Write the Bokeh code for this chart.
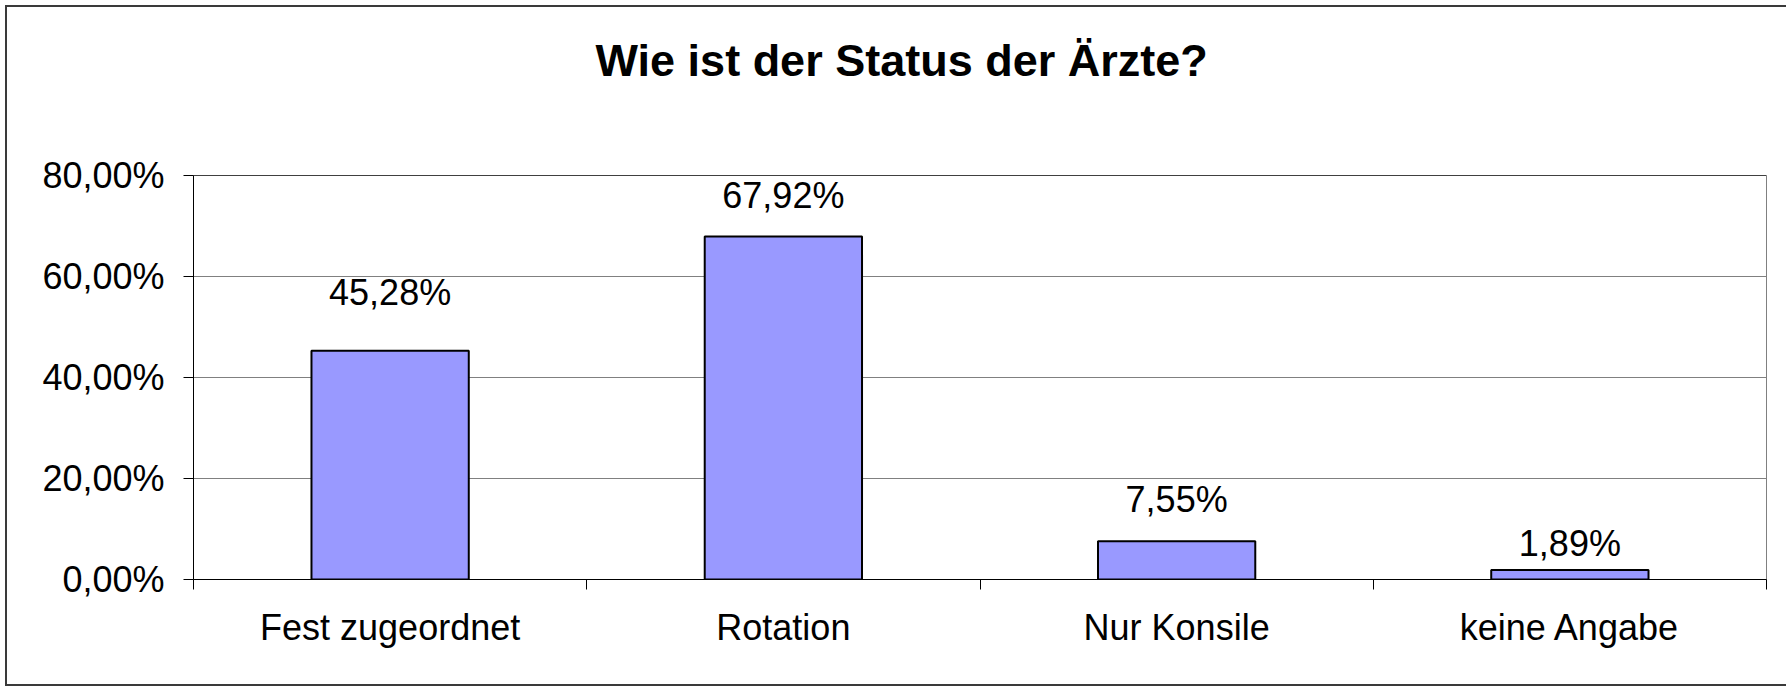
from bokeh.plotting import figure
from bokeh.models import (ColumnDataSource, Range1d, LinearAxis,
                          FixedTicker, Title, Span)
from bokeh.core.properties import value
from bokeh.embed import file_html
from bokeh.resources import INLINE

# ---------------- data ----------------
title_text = "Wie ist der Status der Ärzte?"
categories = ["Fest zugeordnet", "Rotation", "Nur Konsile", "keine Angabe"]
percentages = [45.28, 67.92, 7.55, 1.89]
y_ticks = [0, 20, 40, 60, 80]
y_tick_labels = ["0,00%", "20,00%", "40,00%", "60,00%", "80,00%"]

# ---------------- styling ----------------
FONT = "Liberation Sans"
BAR_FILL = "#9999FF"
GRID = "#808080"
FRAME_W, FRAME_H = 1573, 404
label_offset_px = [58, 41, 42, 26]   # screen offset of value labels above bar tops

n = len(categories)
centers = [i + 0.5 for i in range(n)]          # category slot centres
bounds = list(range(n + 1))                    # category slot boundaries
value_labels = [f"{v:.2f}".replace(".", ",") + "%" for v in percentages]

src = ColumnDataSource(dict(
    x=centers,
    val=percentages,
    label=value_labels,
    yoff=[-g for g in label_offset_px],
))

p = figure(
    x_range=Range1d(0, n),
    y_range=Range1d(y_ticks[0], y_ticks[-1]),
    frame_width=FRAME_W, frame_height=FRAME_H,
    min_border_left=186, min_border_top=168, min_border_right=20, min_border_bottom=105,
    output_backend="svg", toolbar_location=None,
    background_fill_color="white", border_fill_color="white",
)
p.styles = {
    "margin": "5px 0 0 5px",
    "border-left": "2px solid #3a3a3a",
    "border-top": "2px solid #3a3a3a",
    "border-bottom": "2px solid #3a3a3a",
}
p.outline_line_color = GRID
p.outline_line_width = 1

# title
title = Title(text=title_text, align="left", offset=402, standoff=0,
              vertical_align="bottom",
              text_font=FONT, text_font_size="45px", text_font_style="bold",
              text_color="black")
try:
    title.padding = dict(top=0, right=0, bottom=90, left=0)
except Exception:
    title.standoff = 118
p.title = title

# y axis
yax = p.yaxis[0]
yax.ticker = FixedTicker(ticks=y_ticks)
yax.major_label_overrides = {t: l for t, l in zip(y_ticks, y_tick_labels)}
yax.axis_line_color = "black"
yax.major_tick_line_color = "black"
yax.major_tick_out = 10
yax.major_tick_in = 0
yax.minor_tick_line_color = None
yax.major_label_standoff = 19
yax.major_label_text_font = FONT
yax.major_label_text_font_size = "36px"
yax.major_label_text_color = "black"

p.ygrid.ticker = FixedTicker(ticks=y_ticks)
p.ygrid.grid_line_color = GRID
p.ygrid.grid_line_width = 1
p.xgrid.visible = False

# x axes: boundary ticks nearest the frame, category labels below
bound_axis = p.xaxis[0]
bound_axis.ticker = FixedTicker(ticks=bounds)
bound_axis.axis_line_color = "black"
bound_axis.major_tick_line_color = "black"
bound_axis.major_tick_out = 10
bound_axis.major_tick_in = 0
bound_axis.minor_tick_line_color = None
bound_axis.major_label_text_font_size = "0px"
bound_axis.major_label_standoff = 0
bound_axis.major_label_overrides = {b: "" for b in bounds}

cat_axis = LinearAxis(ticker=FixedTicker(ticks=centers))
cat_axis.major_label_overrides = {c: name for c, name in zip(centers, categories)}
cat_axis.axis_line_color = None
cat_axis.major_tick_line_color = None
cat_axis.minor_tick_line_color = None
cat_axis.major_tick_out = 0
cat_axis.major_tick_in = 0
cat_axis.major_label_standoff = 17
cat_axis.major_label_text_font = FONT
cat_axis.major_label_text_font_size = "36px"
cat_axis.major_label_text_color = "black"
p.add_layout(cat_axis, "below")

# bars
p.vbar(x="x", top="val", bottom=0, width=0.4, source=src,
       fill_color=BAR_FILL, line_color="black", line_width=2)

# top line of plot area
p.add_layout(Span(location=y_ticks[-1], dimension="width", line_color="black", line_width=1))

# value labels
p.text(x="x", y="val", text="label", y_offset="yoff", source=src,
       text_align="center", text_baseline="alphabetic",
       text_font=value(FONT), text_font_size="36px", text_color="black")

open("out.html", "w").write(file_html(p, INLINE))
